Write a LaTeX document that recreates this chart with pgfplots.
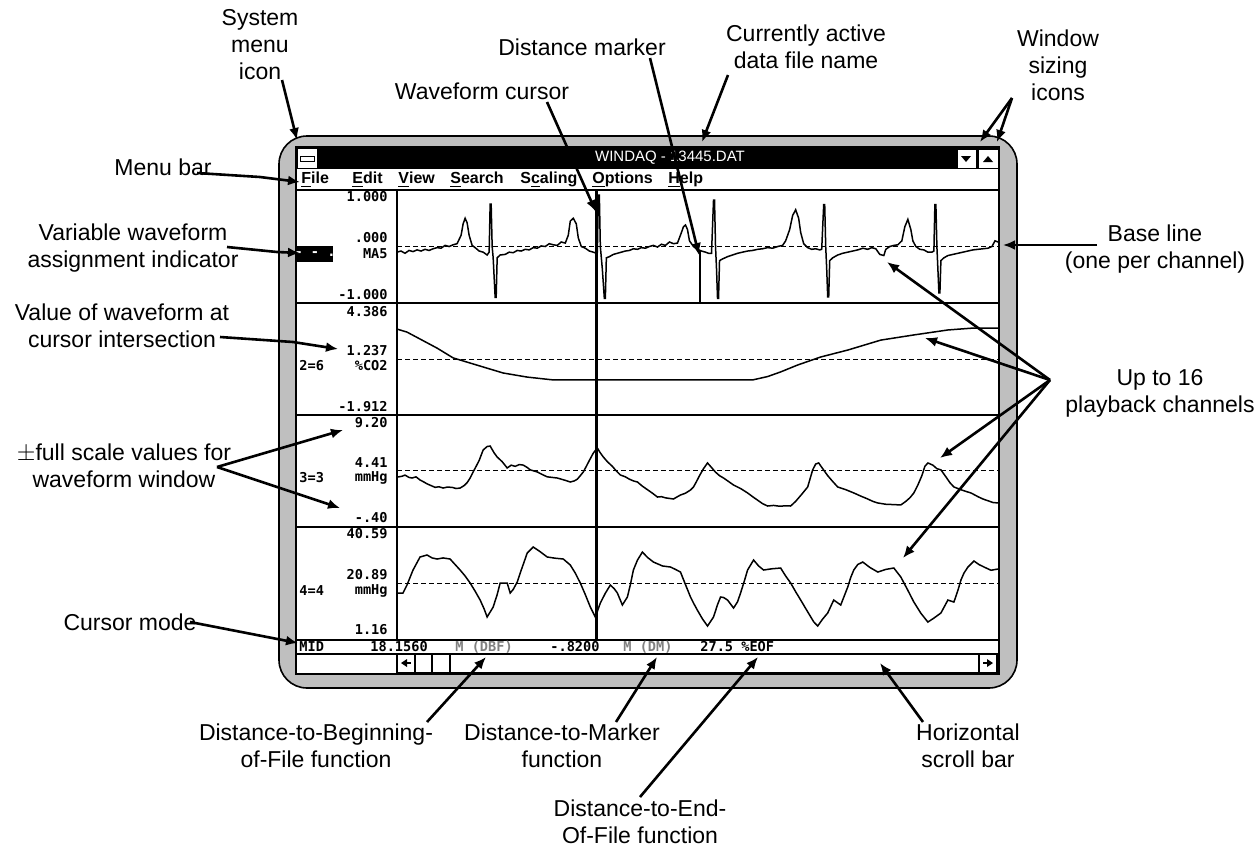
\documentclass[border=0pt]{standalone}
\usepackage{pgfplots}
\pgfplotsset{compat=1.18}
\usetikzlibrary{arrows.meta}
\usepackage{fontspec}
\setmainfont{Liberation Sans}
\newfontfamily\scr{DejaVu Sans Mono}

\pgfplotsset{
  chan/.style={anchor=north west, width=300.5pt, scale only axis, hide axis,
    xmin=0, xmax=600, clip=false},
  wave/.style={black, line width=0.75pt, no markers},
  base/.style={black, line width=0.45pt, dash pattern=on 2.5pt off 1.5pt, no markers},
}
\tikzset{
  ann/.style={font=\fontsize{11.5}{13.5}\selectfont, align=center, inner sep=0pt},
  arr/.style={line width=1.3pt, -{Latex[length=6pt,width=5pt]}},
  lab/.style={font=\scr\bfseries\fontsize{6.8}{8}\selectfont, inner sep=0pt},
  menu/.style={font=\bfseries\fontsize{8}{9}\selectfont, inner sep=0pt, anchor=west},
}

\begin{document}
\begin{tikzpicture}
\useasboundingbox (0,0) rectangle (629.5pt,-423.5pt);
\clip (0,0) rectangle (629.5pt,-423.5pt);

\begin{scope}[x=0.5pt, y=-0.5pt]
% window frame
\draw[line width=0.8pt, fill=gray!50, rounded corners=14pt] (279,136) rectangle (1017,688);
\draw[line width=0.6pt, fill=white] (296,147) rectangle (999,674);
% title bar
\fill[black] (296,147) rectangle (999,169);
\draw[fill=white, line width=0.5pt] (297,148) rectangle (317,168);
\draw[fill=white, line width=0.5pt] (300,156) rectangle (314,161);
\draw[fill=white, line width=0.5pt] (957,149) rectangle (976,168);
\draw[fill=white, line width=0.5pt] (978,149) rectangle (998,168);
\fill (961,156) -- (971,156) -- (966,162) -- cycle;
\fill (983,162) -- (993,162) -- (988,156) -- cycle;
\node[white, font=\fontsize{7.5}{9}\selectfont, inner sep=0pt] at (670,158) {WINDAQ - 13445.DAT};
% menu bar
\node[menu] at (301,180) {\underline{F}ile};
\node[menu] at (352,180) {\underline{E}dit};
\node[menu] at (398,180) {\underline{V}iew};
\node[menu] at (450,180) {\underline{S}earch};
\node[menu] at (520,180) {S\underline{c}aling};
\node[menu] at (592,180) {\underline{O}ptions};
\node[menu] at (668,180) {\underline{H}elp};
\draw[line width=0.6pt] (296,190) -- (999,190);
% channel separators
\draw[line width=0.6pt] (397,190) -- (397,640);
\draw[line width=0.6pt] (296,303) -- (999,303);
\draw[line width=1.2pt] (296,415) -- (999,415);
\draw[line width=0.6pt] (296,527) -- (999,527);
\draw[line width=1.2pt] (296,640) -- (999,640);
\draw[line width=0.6pt] (296,654) -- (999,654);
\end{scope}

% channel 1
\begin{axis}[chan, at={(198.5pt,-95pt)}, height=56.5pt, ymin=-1, ymax=1]
\addplot[base] coordinates {(0,0) (600,0)};
\addplot[wave] coordinates {
(0,-0.10) (4,-0.08) (8,-0.12) (12,-0.07) (16,-0.09) (20,-0.06) (24,-0.08) (28,-0.05)
(32,-0.07) (36,-0.04) (40,-0.02) (44,-0.03) (48,0.02) (52,0.00) (56,0.03) (60,0.05)
(64,0.20) (66,0.40) (68,0.50) (70,0.42) (72,0.20) (75,0.02) (78,-0.02) (82,-0.08)
(86,-0.10) (90,-0.15) (92,-0.10) (93,0.75) (94,0.75) (95,0.0) (96,-0.2) (98,-0.90)
(99,-0.90) (100,-0.20) (103,-0.15) (108,-0.14) (112,-0.10) (116,-0.11) (120,-0.07)
(124,-0.08) (128,-0.05) (132,-0.06) (136,-0.02) (140,-0.03) (144,0.01) (148,0.00)
(152,0.05) (156,0.03) (160,0.02) (164,0.08) (168,0.06) (171,0.20) (173,0.45) (176,0.50)
(179,0.40) (181,0.15) (184,0.00) (188,-0.03) (192,-0.08) (196,-0.10) (199,-0.12)
(200,-0.10) (201,0.91) (202,0.91) (203,0.0) (205,-0.4) (207,-0.92) (208,-0.92)
(209,-0.2) (212,-0.18) (216,-0.14) (220,-0.12) (224,-0.10) (228,-0.08) (232,-0.07)
(236,-0.04) (240,-0.05) (244,-0.02) (248,-0.03) (252,0.00) (256,0.02) (260,-0.01)
(264,0.04) (268,0.02) (272,0.08) (276,0.05) (280,0.06) (284,0.25) (286,0.35) (288,0.38)
(290,0.30) (292,0.10) (296,0.00) (300,-0.05) (304,-0.08) (308,-0.10) (311,-0.12)
(314,-0.12) (316,0.82) (317,0.82) (318,0.0) (319,-0.4) (320,-0.92) (321,-0.92)
(322,-0.25) (325,-0.22) (330,-0.18) (335,-0.15) (340,-0.12) (345,-0.10) (350,-0.08)
(355,-0.07) (360,-0.05) (365,-0.04) (370,-0.02) (375,-0.03) (380,0.00) (385,0.02)
(388,0.10) (392,0.30) (395,0.55) (398,0.65) (401,0.50) (403,0.25) (406,0.05) (410,-0.02)
(414,-0.05) (418,-0.04) (422,-0.06) (424,-0.05) (426,0.74) (427,0.74) (428,0.0)
(429,-0.4) (430,-0.89) (431,-0.89) (432,-0.25) (435,-0.20) (440,-0.15) (445,-0.12)
(450,-0.10) (455,-0.08) (460,-0.06) (465,-0.03) (470,-0.05) (474,-0.02) (478,-0.04)
(482,-0.14) (486,-0.16) (488,-0.05) (492,0.00) (496,0.02) (500,0.03) (504,0.10)
(507,0.35) (510,0.48) (513,0.30) (515,0.10) (518,0.00) (522,-0.05) (526,-0.06)
(530,-0.10) (534,-0.10) (536,-0.08) (537,0.74) (538,0.74) (539,0.0) (540,-0.4)
(541,-0.82) (542,-0.82) (543,-0.25) (546,-0.20) (550,-0.16) (555,-0.14) (560,-0.12)
(565,-0.10) (570,-0.08) (575,-0.06) (580,-0.05) (585,-0.04) (590,-0.03) (594,0.00)
(597,0.10) (600,0.08)};
\end{axis}

% channel 2
\begin{axis}[chan, at={(198.5pt,-151.5pt)}, height=56pt, ymin=-1.912, ymax=4.386]
\addplot[base] coordinates {(0,1.237) (600,1.237)};
\addplot[wave] coordinates {
(0,2.92) (10,2.75) (20,2.45) (30,2.15) (40,1.85) (56,1.30) (73,1.01) (90,0.72)
(106,0.45) (130,0.22) (156,0.06) (200,0.06) (260,0.06) (300,0.06) (355,0.06)
(370,0.25) (383,0.51) (400,0.90) (423,1.35) (450,1.74) (483,2.30) (516,2.59)
(550,2.87) (576,2.98) (600,2.98)};
\end{axis}

% channel 3
\begin{axis}[chan, at={(198.5pt,-207.5pt)}, height=56pt, ymin=-0.40, ymax=9.20]
\addplot[base] coordinates {(0,4.41) (600,4.41)};
\addplot[wave] coordinates {
(1,3.89) (5,3.95) (8,4.05) (12,3.85) (15,3.80) (19,3.90) (23,3.63) (27,3.45) (30,3.30)
(34,3.15) (38,3.00) (42,3.05) (46,2.94) (50,3.02) (55,3.00) (59,2.90) (63,2.94) (67,3.15)
(70,3.40) (73,3.80) (76,4.32) (79,4.80) (82,5.30) (86,6.20) (90,6.50) (93,6.54) (97,5.95)
(100,5.60) (105,5.20) (110,4.66) (114,4.90) (118,4.80) (122,4.95) (126,4.91) (130,4.70)
(133,4.50) (140,4.32) (145,4.10) (150,3.90) (155,3.85) (160,3.80) (164,3.70) (168,3.60)
(173,3.46) (177,3.55) (180,3.70) (183,4.00) (186,4.32) (189,4.80) (192,5.30) (196,5.94)
(200,6.37) (203,5.95) (206,5.60) (210,5.20) (215,4.80) (219,4.40) (223,4.06) (228,3.90)
(232,3.70) (236,3.55) (240,3.46) (245,3.10) (250,2.80) (255,2.50) (260,2.17) (264,2.20)
(268,2.10) (272,2.05) (276,2.00) (280,2.20) (283,2.34) (288,2.50) (293,2.77) (296,3.03)
(299,3.50) (302,4.00) (306,4.60) (310,5.09) (314,4.70) (318,4.30) (322,4.00) (326,3.80)
(331,3.50) (336,3.20) (343,2.90) (350,2.52) (355,2.20) (360,1.90) (365,1.60) (370,1.40)
(376,1.45) (382,1.38) (388,1.42) (393,1.40) (398,1.80) (404,2.40) (410,3.03) (415,4.50)
(418,5.00) (421,5.09) (425,4.60) (430,4.00) (435,3.50) (440,3.03) (448,2.80) (456,2.52)
(463,2.25) (470,2.00) (475,1.80) (480,1.66) (488,1.55) (496,1.52) (503,1.49) (508,1.80)
(512,2.10) (516,2.52) (520,3.20) (524,4.00) (527,4.80) (530,5.09) (535,4.90) (539,4.60)
(543,4.50) (548,3.90) (552,3.40) (556,3.03) (563,2.80) (568,2.65) (573,2.52) (580,2.20)
(585,2.00) (590,1.85) (595,1.70) (600,1.66)};
\end{axis}

% channel 4
\begin{axis}[chan, at={(198.5pt,-263.5pt)}, height=56.5pt, ymin=1.16, ymax=40.59]
\addplot[base] coordinates {(0,20.89) (600,20.89)};
\addplot[wave] coordinates {
(1,17.56) (6,17.56) (10,20.35) (16,25.58) (23,30.12) (30,30.82) (35,29.80) (40,29.42)
(46,29.80) (53,29.42) (58,27.50) (63,25.58) (68,23.50) (73,21.05) (78,18.20) (83,15.11)
(87,12.00) (90,9.18) (96,12.67) (100,17.00) (103,21.05) (110,21.05) (113,17.56)
(116,18.80) (120,21.39) (123,24.54) (127,28.50) (130,31.52) (136,33.61) (142,32.20)
(150,30.12) (158,29.70) (166,29.42) (173,27.33) (178,24.50) (183,21.05) (188,17.00)
(193,12.67) (198,9.18) (203,14.07) (208,17.50) (213,20.35) (217,19.00) (220,17.56)
(225,13.37) (230,16.16) (233,20.50) (236,25.58) (240,29.00) (245,31.86) (250,30.00)
(256,28.37) (265,27.00) (273,26.63) (278,25.80) (283,24.88) (288,20.50) (293,16.16)
(296,14.07) (300,11.50) (305,8.50) (310,6.04) (316,9.18) (320,13.50) (323,16.16)
(326,16.00) (330,15.11) (336,12.32) (340,14.50) (343,17.56) (347,22.00) (350,25.58)
(356,29.07) (361,27.00) (366,25.58) (374,26.00) (383,26.28) (388,23.50) (393,21.05)
(398,18.00) (403,15.11) (410,11.00) (416,7.50) (420,6.04) (425,8.50) (430,10.58)
(436,15.11) (443,13.37) (450,19.65) (453,23.00) (456,25.58) (460,27.50) (465,28.37)
(472,26.50) (480,24.88) (488,25.80) (496,26.28) (503,23.14) (510,18.50) (516,14.41)
(523,10.50) (530,7.43) (536,8.80) (543,10.58) (550,15.11) (556,14.41) (560,18.50)
(563,22.09) (566,24.50) (570,26.63) (576,28.72) (581,27.50) (586,26.63) (593,25.50)
(600,25.93)};
\end{axis}

\begin{scope}[x=0.5pt, y=-0.5pt]
% cursor and distance marker
\draw[line width=1.3pt] (596.5,190) -- (596.5,640);
\draw[line width=1.3pt] (700,250) -- (700,303);
% channel labels
\fill[black] (297,246) rectangle (333,262);
\node[lab, white] at (315,254) {- - .};
\node[lab, anchor=east] at (388,197) {1.000};
\node[lab, anchor=east] at (388,238) {.000};
\node[lab, anchor=east] at (388,254) {MA5};
\node[lab, anchor=east] at (388,295) {-1.000};
\node[lab, anchor=east] at (388,312) {4.386};
\node[lab, anchor=east] at (388,351) {1.237};
\node[lab, anchor=east] at (388,366) {\%CO2};
\node[lab, anchor=east] at (388,407) {-1.912};
\node[lab, anchor=west] at (299,366) {2=6};
\node[lab, anchor=east] at (388,423) {9.20};
\node[lab, anchor=east] at (388,463) {4.41};
\node[lab, anchor=east] at (388,478) {mmHg};
\node[lab, anchor=east] at (388,518) {-.40};
\node[lab, anchor=west] at (299,478) {3=3};
\node[lab, anchor=east] at (388,534) {40.59};
\node[lab, anchor=east] at (388,575) {20.89};
\node[lab, anchor=east] at (388,591) {mmHg};
\node[lab, anchor=east] at (388,630) {1.16};
\node[lab, anchor=west] at (299,591) {4=4};
% status bar
\node[lab, anchor=west] at (299,647) {MID};
\node[lab, anchor=west] at (370,647) {18.1560};
\node[lab, anchor=west, gray] at (455,647) {M (DBF)};
\node[lab, anchor=west] at (550,647) {-.8200};
\node[lab, anchor=west, gray] at (623,647) {M (DM)};
\node[lab, anchor=west] at (700,647) {27.5 \%EOF};
% scroll bar
\draw[line width=0.6pt] (397,654) rectangle (997,673);
\draw[line width=0.6pt] (415,654) -- (415,673) (432,654) -- (432,673) (450,654) -- (450,673);
\draw[line width=0.6pt] (979,654) -- (979,673);
\fill (401,663) -- (407,659) -- (407,667) -- cycle;
\draw[line width=1pt] (406,663) -- (411,663);
\fill (993,663) -- (987,659) -- (987,667) -- cycle;
\draw[line width=1pt] (988,663) -- (983,663);

% annotations
\node[ann] at (260,45) {System\\menu\\icon};
\draw[arr] (282,80) -- (297,140);
\node[ann] at (482,91) {Waveform cursor};
\draw[arr] (547,102) -- (596,212);
\node[ann] at (582,47) {Distance marker};
\draw[arr] (650,58) -- (699,255);
\node[ann] at (806,47) {Currently active\\data file name};
\draw[arr] (728,75) -- (702,142);
\node[ann] at (1058,65) {Window\\sizing\\icons};
\draw[arr] (1012,98) -- (980,142);
\draw[arr] (1012,98) -- (997,142);
\node[ann] at (163,167) {Menu bar};
\draw[arr] (197,173) -- (260,177) -- (300,182);
\node[ann] at (133,248) {Variable waveform\\assignment indicator};
\draw[arr] (227,247) -- (277,252) -- (300,253);
\node[ann] at (122,326) {Value of waveform at\\cursor intersection};
\draw[arr] (220,337) -- (293,342) -- (338,349);
\node[ann] at (124,466) {$\pm$full scale values for\\waveform window};
\draw[arr] (217,467) -- (343,430);
\draw[arr] (217,467) -- (340,508);
\node[ann] at (130,622) {Cursor mode};
\draw[arr] (190,622) -- (298,643);
\node[ann] at (1155,249) {Base line\\(one per channel)};
\draw[arr] (1097,245) -- (1003,245);
\node[ann] at (1160,393) {Up to 16\\playback channels};
\draw[arr] (1050,380) -- (887,262);
\draw[arr] (1050,380) -- (925,338);
\draw[arr] (1050,380) -- (940,458);
\draw[arr] (1050,380) -- (903,558);
\node[ann] at (316,746) {Distance-to-Beginning-\\of-File function};
\draw[arr] (427,722) -- (486,657);
\node[ann] at (562,746) {Distance-to-Marker\\function};
\draw[arr] (616,722) -- (657,657);
\node[ann] at (640,822) {Distance-to-End-\\Of-File function};
\draw[arr] (640,797) -- (758,657);
\node[ann] at (968,746) {Horizontal\\scroll bar};
\draw[arr] (923,722) -- (880,663);
\end{scope}
\end{tikzpicture}
\end{document}
